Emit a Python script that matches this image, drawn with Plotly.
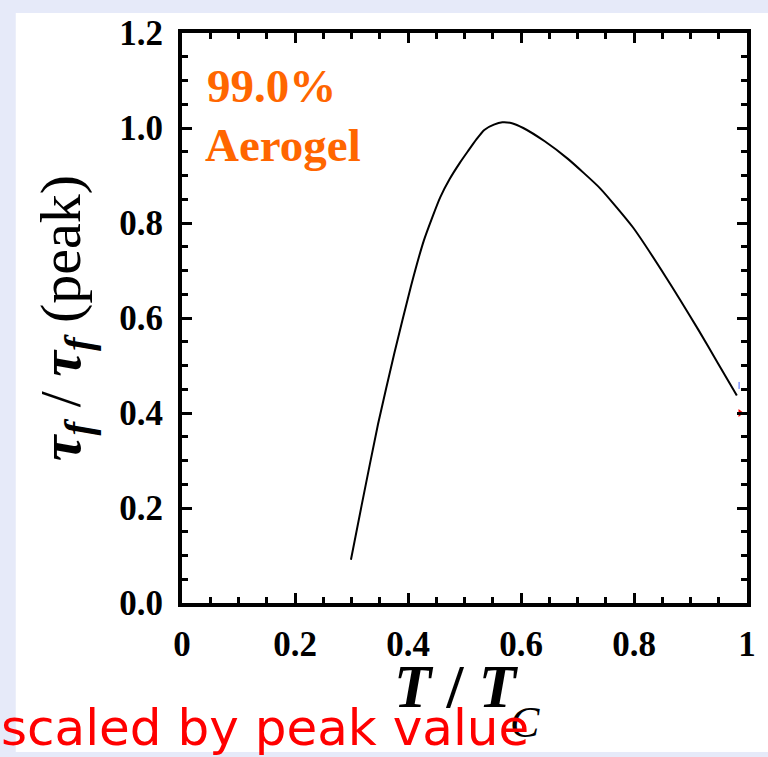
import plotly.graph_objects as go

# ---- data ----
t_ratio = [0.299, 0.318, 0.347, 0.376, 0.405, 0.428, 0.443, 0.457, 0.474, 0.492,
           0.506, 0.521, 0.535, 0.552, 0.567, 0.584, 0.604, 0.642, 0.683, 0.740,
           0.798, 0.856, 0.914, 0.948, 0.982]
tau_ratio = [0.091, 0.206, 0.377, 0.527, 0.666, 0.763, 0.812, 0.854, 0.893, 0.927,
             0.951, 0.976, 0.996, 1.007, 1.012, 1.010, 1.000, 0.972, 0.935, 0.873,
             0.791, 0.687, 0.575, 0.506, 0.437]
blue_mark_x = [0.986]
blue_mark_y = [0.458]
red_mark_x = [0.988]
red_mark_y = [0.400]

x_tickvals = [0, 0.2, 0.4, 0.6, 0.8, 1]
x_ticktext = ["0", "0.2", "0.4", "0.6", "0.8", "1"]
y_tickvals = [0, 0.2, 0.4, 0.6, 0.8, 1.0, 1.2]
y_ticktext = ["0.0", "0.2", "0.4", "0.6", "0.8", "1.0", "1.2"]

W, H = 768, 757
L, R, T, B = 182, 15, 33, 154
pw, ph = W - L - R, H - T - B

def px(xp):
    return (xp - L) / pw

def py(yp):
    return (H - B - yp) / ph

serif = "Liberation Serif"
lavender = "#e6eaf9"

fig = go.Figure()
fig.add_trace(go.Scatter(x=t_ratio, y=tau_ratio, mode="lines",
                         line=dict(color="black", width=2, shape="spline", smoothing=0.5),
                         hoverinfo="skip", showlegend=False))
fig.add_trace(go.Scatter(x=blue_mark_x, y=blue_mark_y, mode="markers",
                         marker=dict(symbol="line-ns", size=5, line=dict(color="#4060ff", width=1)),
                         showlegend=False, hoverinfo="skip"))
fig.add_trace(go.Scatter(x=red_mark_x, y=red_mark_y, mode="markers",
                         marker=dict(symbol="triangle-right", size=7, color="red"),
                         showlegend=False, hoverinfo="skip"))

axis_common = dict(showline=True, linecolor="black", linewidth=4, mirror="ticks",
                   ticks="inside", ticklen=10, tickwidth=3, tickcolor="black",
                   showgrid=False, zeroline=False,
                   tickfont=dict(family=serif, size=35, color="black", weight="bold"))

fig.update_xaxes(range=[0, 1], tickvals=x_tickvals, ticktext=x_ticktext,
                 minor=dict(dtick=0.05, ticks="inside", ticklen=6, tickwidth=3,
                            tickcolor="black", showgrid=False),
                 ticklabelstandoff=7,
                 **axis_common)
fig.update_yaxes(range=[0, 1.2], tickvals=y_tickvals, ticktext=y_ticktext,
                 minor=dict(dtick=0.05, ticks="inside", ticklen=6, tickwidth=3,
                            tickcolor="black", showgrid=False),
                 ticklabelstandoff=8,
                 title=dict(text="<b><i>τ</i></b><sub><b><i>f</i></b></sub> / <b><i>τ</i></b><sub><b><i>f</i></b></sub> (peak)",
                            font=dict(family=serif, size=58, color="black"), standoff=21),
                 **axis_common)

# lavender frame strips (left, top, bottom); the rest of the page is white
for x0, x1, y0, y1 in [(-5, 14, -5, 762), (-5, 775, -5, 13), (-5, 775, 752, 762)]:
    fig.add_shape(type="rect", xref="paper", yref="paper",
                  x0=px(x0), x1=px(x1), y0=py(y1), y1=py(y0),
                  fillcolor=lavender, line=dict(width=0), layer="below")

# x-axis title: "T / T" with a lowered subscript "C"
fig.add_annotation(xref="paper", yref="paper", x=px(459), y=py(651), xanchor="center", yanchor="top",
                   text="<b><i>T</i> / <i>T</i></b>", showarrow=False,
                   font=dict(family=serif, size=61, color="black"))
fig.add_annotation(xref="paper", yref="paper", x=px(511), y=py(696), xanchor="left", yanchor="top",
                   text="<i>C</i>", showarrow=False,
                   font=dict(family=serif, size=44, color="black"))

fig.add_annotation(xref="paper", yref="paper", x=px(205), y=py(86), xanchor="left", yanchor="middle",
                   text="<b>99.0%</b>", showarrow=False,
                   font=dict(family=serif, size=47, color="#ff6600"))
fig.add_annotation(xref="paper", yref="paper", x=px(203), y=py(145), xanchor="left", yanchor="middle",
                   text="<b>Aerogel</b>", showarrow=False,
                   font=dict(family=serif, size=47, color="#ff6600"))
fig.add_annotation(xref="paper", yref="paper", x=px(-3), y=py(728), xanchor="left", yanchor="middle",
                   text="scaled by peak value", showarrow=False,
                   font=dict(family="DejaVu Sans", size=50, color="red"))

fig.update_layout(width=W, height=H, margin=dict(l=L, r=R, t=T, b=B, pad=0),
                  paper_bgcolor="white", plot_bgcolor="white", showlegend=False)

fig.write_html("out.html", config={"displayModeBar": False})
